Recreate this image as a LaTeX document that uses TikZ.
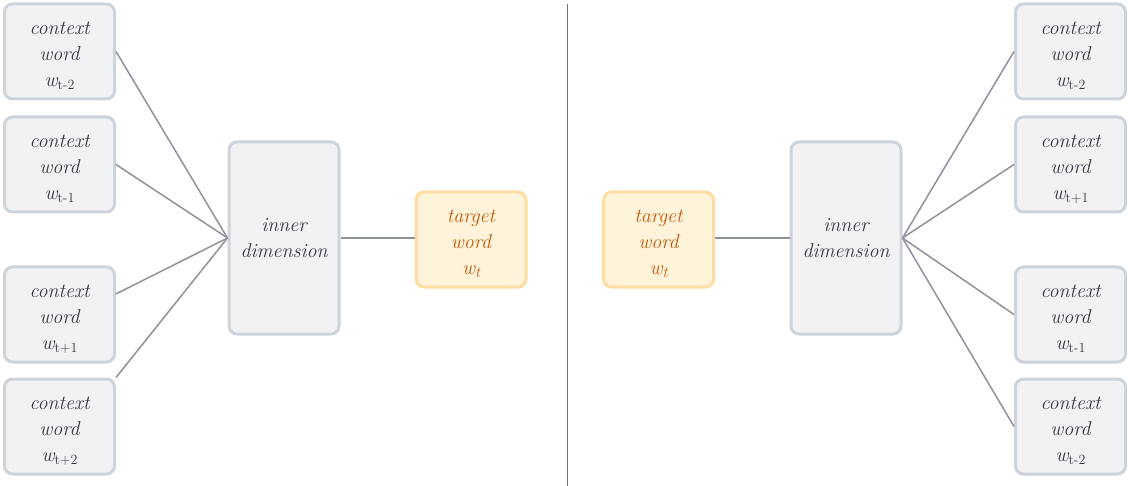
\documentclass[tikz,border=0pt]{standalone}
\usepackage{fontspec}
\definecolor{boxfill}{HTML}{F1F2F4}
\definecolor{boxdraw}{HTML}{CDD3DA}
\definecolor{txt}{HTML}{343842}
\definecolor{edge}{HTML}{8E929B}
\definecolor{tfill}{HTML}{FFF3DA}
\definecolor{tdraw}{HTML}{FFDDA2}
\definecolor{ttxt}{HTML}{C4580A}
\definecolor{divider}{HTML}{777777}
\newcommand{\wsub}[1]{\textit{w}\smash{\raisebox{-0.4ex}{\fontsize{14}{14}\selectfont\upshape #1}}}
\newcommand{\wt}{\textit{w}\smash{\raisebox{-0.4ex}{\fontsize{15}{15}\selectfont\itshape t}}}
\newcommand{\topstrut}{\rule{0pt}{18pt}}
\tikzset{
  ctxbox/.style={draw=boxdraw, fill=boxfill, line width=3pt, rounded corners=8pt,
    minimum width=110pt, minimum height=95pt, inner sep=0pt, align=center,
    text=txt, font=\fontsize{20}{26}\selectfont\itshape},
  innerbox/.style={ctxbox, minimum height=192pt},
  tgtbox/.style={ctxbox, draw=tdraw, fill=tfill, text=ttxt},
  conn/.style={draw=edge, line width=1.5pt},
  divline/.style={draw=divider, line width=1pt}
}
\begin{document}
\begin{tikzpicture}[x=1pt,y=-1pt]
\useasboundingbox (0,0) rectangle (1129,486);
% left side
\node[ctxbox] (lc1) at (59.5,51.5) {\topstrut context\\word\\\wsub{t-2}};
\node[ctxbox] (lc2) at (59.5,164.5) {\topstrut context\\word\\\wsub{t-1}};
\node[ctxbox] (lc3) at (59.5,314.5) {\topstrut context\\word\\\wsub{t+1}};
\node[ctxbox] (lc4) at (59.5,426.5) {\topstrut context\\word\\\wsub{t+2}};
\node[innerbox] (li) at (284,238) {inner\\dimension};
\node[tgtbox] (lt) at (471,239.5) {\topstrut target\\word\\\wt};
\draw[conn] (lc1.east) -- (li.west);
\draw[conn] (lc2.east) -- (li.west);
\draw[conn] (lc3.20) -- (li.west);
\draw[conn] (lc4.north east) -- (li.west);
\draw[conn] (li.east) -- (lt.west |- li.east);
% divider
\coordinate (dtop) at (567,4);
\coordinate (dbot) at (567,486);
\draw[divline] (dtop) -- (dbot);
% right side
\node[tgtbox] (rt) at (658.5,239.5) {\topstrut target\\word\\\wt};
\node[innerbox] (ri) at (846,238) {inner\\dimension};
\node[ctxbox] (rc1) at (1070.5,51.5) {\topstrut context\\word\\\wsub{t-2}};
\node[ctxbox] (rc2) at (1070.5,164.5) {\topstrut context\\word\\\wsub{t+1}};
\node[ctxbox] (rc3) at (1070.5,314.5) {\topstrut context\\word\\\wsub{t-1}};
\node[ctxbox] (rc4) at (1070.5,426.5) {\topstrut context\\word\\\wsub{t-2}};
\draw[conn] (rt.east |- ri.west) -- (ri.west);
\draw[conn] (ri.east) -- (rc1.west);
\draw[conn] (ri.east) -- (rc2.west);
\draw[conn] (ri.east) -- (rc3.west);
\draw[conn] (ri.east) -- (rc4.west);
\end{tikzpicture}
\end{document}
